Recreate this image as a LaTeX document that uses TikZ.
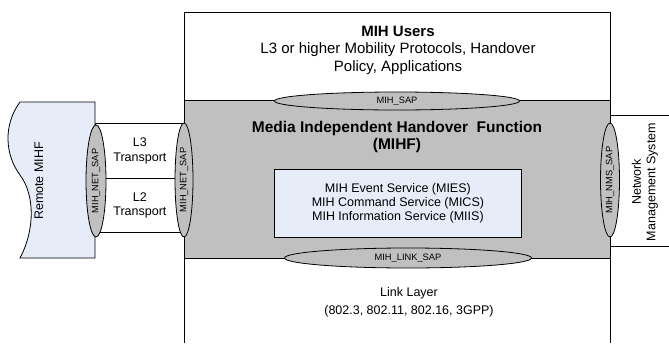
\documentclass[tikz,border=0pt]{standalone}
\usepackage{fontspec}
\setmainfont{Liberation Sans}
\usetikzlibrary{shapes.geometric}
\definecolor{mihgray}{RGB}{192,192,192}
\definecolor{paleblue}{RGB}{230,237,249}
\begin{document}
\begin{tikzpicture}[x=1pt,y=-1pt,
  outline/.style={draw=black,line width=0.8pt},
  sap/.style={ellipse,outline,fill=mihgray,inner sep=0pt,font=\fontsize{9.3}{11}\selectfont},
  body/.style={font=\fontsize{12.5}{14.5}\selectfont,align=center,inner sep=0pt},
  head/.style={font=\fontsize{15}{17.5}\selectfont,align=center,inner sep=0pt}]
\useasboundingbox (0,0) rectangle (669,343);
% main column
\draw[outline] (184,343) -- (184,12) -- (610,12) -- (610,343);
\node[head] (users) at (398,50) {\textbf{MIH Users}\\L3 or higher Mobility Protocols, Handover\\Policy, Applications};
% MIHF gray band
\node[outline,fill=mihgray,minimum width=426pt,minimum height=158pt,inner sep=0pt,anchor=north west] (mihf) at (184,100) {};
\node[font=\fontsize{15.5}{17}\selectfont\bfseries,align=center,inner sep=0pt] (mihftitle) at (397,137) {Media Independent Handover\ \ Function\\(MIHF)};
\node[outline,fill=paleblue,minimum width=247pt,minimum height=68pt,inner sep=0pt,anchor=north west] (svc) at (274,169) {};
\node[font=\fontsize{12.5}{14}\selectfont,align=center,inner sep=0pt] (svctext) at (svc.center) {MIH Event Service (MIES)\\MIH Command Service (MICS)\\MIH Information Service (MIIS)};
% link layer
\node[font=\fontsize{12.5}{18}\selectfont,align=center,inner sep=0pt] (link) at (409,302) {Link Layer\\(802.3, 802.11, 802.16, 3GPP)};
% network management system
\coordinate (nmsTR) at (672,115);
\coordinate (nmsBR) at (672,246);
\draw[outline] (nmsTR) -- (610,115);
\draw[outline] (nmsBR) -- (610,246);
\node[body,rotate=90] (nms) at (645,182) {Network\\Management System};
% transport boxes
\node[outline,fill=white,minimum width=89pt,minimum height=55pt,inner sep=0pt,anchor=north west] (l3) at (95,123) {};
\node[outline,fill=white,minimum width=89pt,minimum height=54pt,inner sep=0pt,anchor=north west] (l2) at (95,178) {};
\node[body] (l3t) at (l3.center) {L3\\Transport};
\node[body] (l2t) at (l2.center) {L2\\Transport};
% remote MIHF
\draw[outline,fill=paleblue] (95,102) -- (20,102) .. controls (3,125) and (5,155) .. (20,175) .. controls (35,195) and (35,230) .. (20,258) -- (95,258) -- cycle;
\node[body,rotate=90] (remote) at (39,181) {Remote MIHF};
% SAPs
\node[sap,minimum width=245pt,minimum height=18pt] (sapu) at (397,101) {MIH\_SAP};
\node[sap,minimum width=247pt,minimum height=20pt] (sapl) at (408,258) {MIH\_LINK\_SAP};
\node[sap,rotate=90,minimum width=112pt,minimum height=20pt] (netl) at (96,181) {MIH\_NET\_SAP};
\node[sap,rotate=90,minimum width=114pt,minimum height=18pt] (netr) at (184,180) {MIH\_NET\_SAP};
\node[sap,rotate=90,minimum width=114pt,minimum height=19pt] (nmssap) at (610,180) {MIH\_NMS\_SAP};
\end{tikzpicture}
\end{document}
